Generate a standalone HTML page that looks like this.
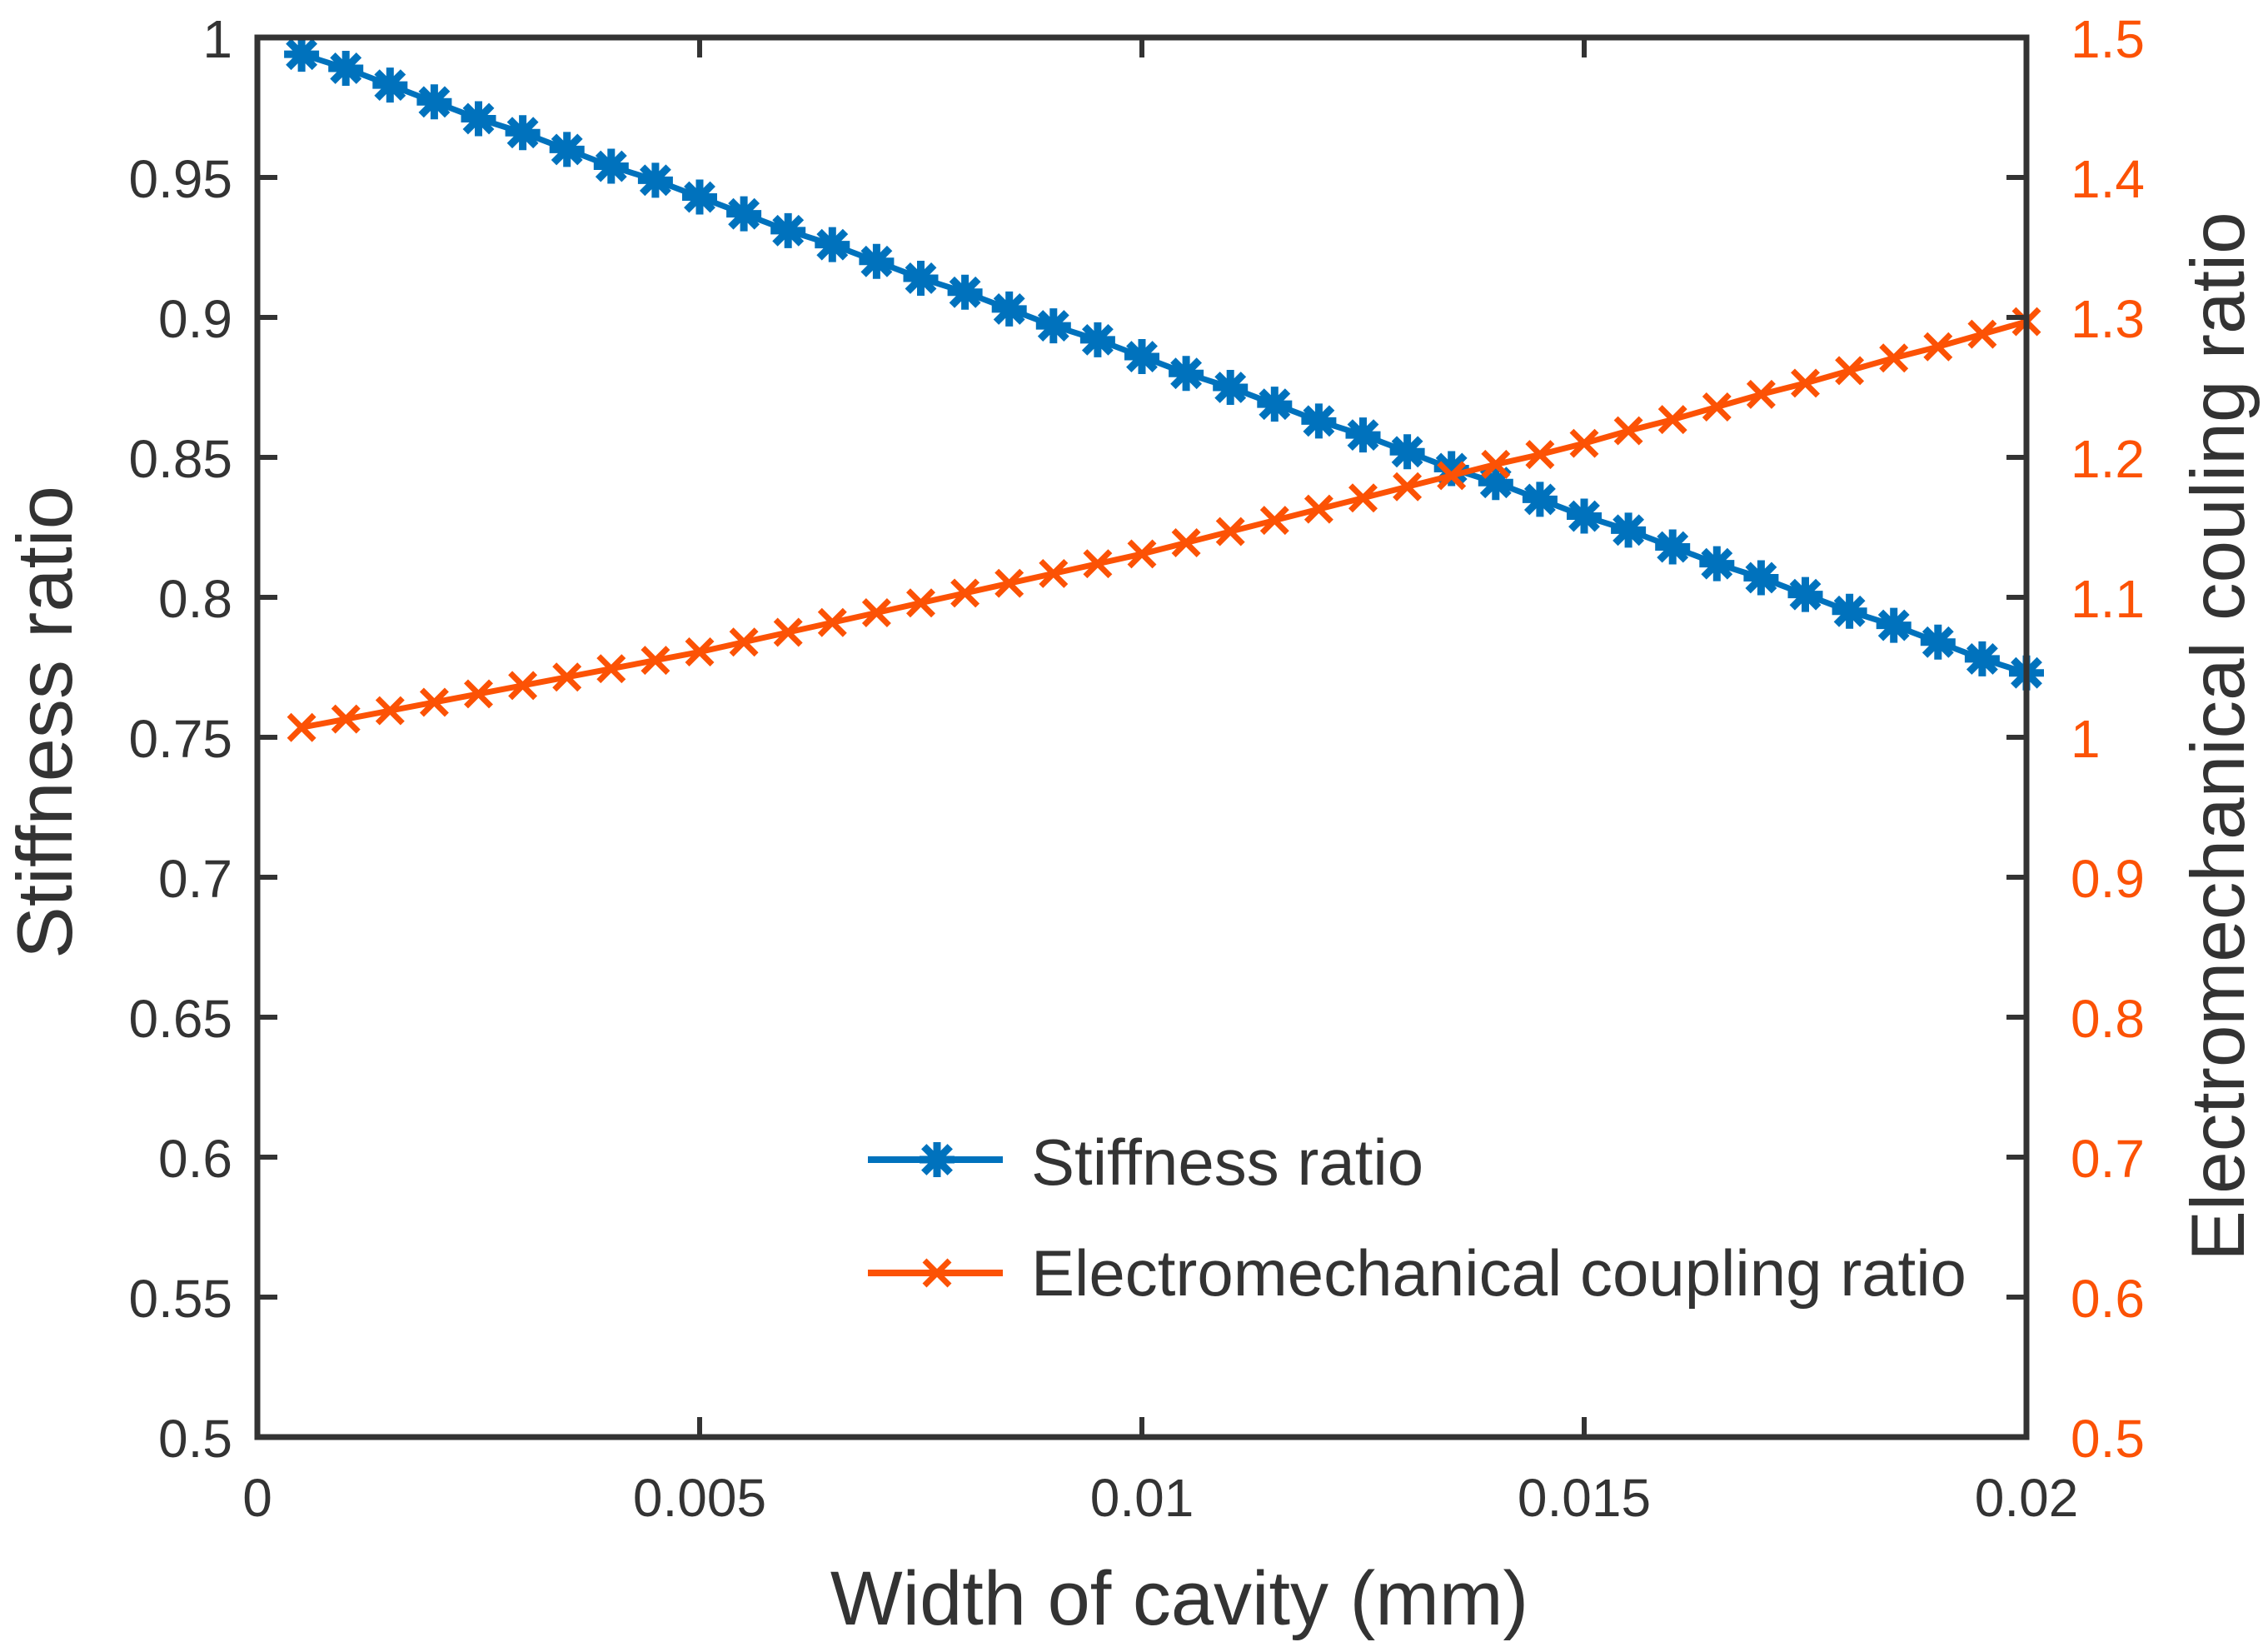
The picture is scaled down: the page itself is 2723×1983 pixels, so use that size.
<!DOCTYPE html>
<html><head><meta charset="utf-8"><style>
html,body{margin:0;padding:0;background:#fff}
svg{display:block}
text{font-family:"Liberation Sans",Arial,sans-serif}
</style></head><body>
<svg id="chart" width="2723" height="1983" viewBox="0 0 2723 1983" xmlns="http://www.w3.org/2000/svg">
<g id="grid"></g>
<g id="series"></g>
<g id="axes"></g>
</svg>
<script>
const widths = [0.0005,0.001,0.0015,0.002,0.0025,0.003,0.0035,0.004,0.0045,0.005,0.0055,0.006,0.0065,0.007,0.0075,0.008,0.0085,0.009,0.0095,0.01,0.0105,0.011,0.0115,0.012,0.0125,0.013,0.0135,0.014,0.0145,0.015,0.0155,0.016,0.0165,0.017,0.0175,0.018,0.0185,0.019,0.0195,0.02];
const stiffness = [0.994,0.989,0.983,0.977,0.971,0.966,0.960,0.954,0.949,0.943,0.937,0.931,0.926,0.920,0.914,0.909,0.903,0.897,0.892,0.886,0.880,0.875,0.869,0.863,0.858,0.852,0.846,0.841,0.835,0.829,0.824,0.818,0.812,0.807,0.801,0.795,0.790,0.784,0.778,0.773];
const coupling = [1.007,1.013,1.019,1.025,1.031,1.037,1.043,1.049,1.055,1.061,1.068,1.075,1.082,1.089,1.096,1.103,1.110,1.117,1.124,1.131,1.139,1.147,1.155,1.163,1.171,1.179,1.187,1.195,1.202,1.210,1.219,1.227,1.236,1.245,1.253,1.262,1.271,1.279,1.288,1.297];
const xTicks = [0,0.005,0.01,0.015,0.02];
const xTickLabels = ["0","0.005","0.01","0.015","0.02"];
const yLeftTicks = [0.5,0.55,0.6,0.65,0.7,0.75,0.8,0.85,0.9,0.95,1];
const yLeftLabels = ["0.5","0.55","0.6","0.65","0.7","0.75","0.8","0.85","0.9","0.95","1"];
const yRightTicks = [0.5,0.6,0.7,0.8,0.9,1,1.1,1.2,1.3,1.4,1.5];
const yRightLabels = ["0.5","0.6","0.7","0.8","0.9","1","1.1","1.2","1.3","1.4","1.5"];

const L=309,R=2433,T=45,B=1725;
const BLUE="#0072BD",ORANGE="#FC5205",AX="#333333";
const sx=v=>L+(v-0)/(0.02-0)*(R-L);
const syL=v=>B-(v-0.5)/(1-0.5)*(B-T);
const syR=v=>B-(v-0.5)/(1.5-0.5)*(B-T);
const NS="http://www.w3.org/2000/svg";
function mk(tag,attrs,parent){const e=document.createElementNS(NS,tag);for(const k in attrs)e.setAttribute(k,attrs[k]);parent.appendChild(e);return e;}
const series=document.getElementById('series'),axes=document.getElementById('axes');

function star(g,x,y,c){const r=21;
 const p=mk('path',{d:`M${x-r} ${y}H${x+r}M${x} ${y-r}V${y+r}M${x-r*0.75} ${y-r*0.75}L${x+r*0.75} ${y+r*0.75}M${x-r*0.75} ${y+r*0.75}L${x+r*0.75} ${y-r*0.75}`,stroke:c,'stroke-width':9,fill:'none'},g);return p;}
function cross(g,x,y,c){const r=15;
 return mk('path',{d:`M${x-r} ${y-r}L${x+r} ${y+r}M${x-r} ${y+r}L${x+r} ${y-r}`,stroke:c,'stroke-width':7,fill:'none'},g);}

const gS=mk('g',{},series);


const lS=mk('polyline',{points:widths.map((w,i)=>sx(w)+','+syL(stiffness[i])).join(' '),fill:'none',stroke:BLUE,'stroke-width':7},gS);


widths.forEach((w,i)=>{const m=star(gS,sx(w),syL(stiffness[i]),BLUE);
 
 });

const gC=mk('g',{},series);


const lC=mk('polyline',{points:widths.map((w,i)=>sx(w)+','+syR(coupling[i])).join(' '),fill:'none',stroke:ORANGE,'stroke-width':7},gC);


widths.forEach((w,i)=>{const m=cross(gC,sx(w),syR(coupling[i]),ORANGE);
 
 });

const box=mk('rect',{x:L,y:T,width:R-L,height:B-T,fill:'none',stroke:AX,'stroke-width':7},axes);



xTicks.forEach((v,i)=>{const x=sx(v);
 mk('path',{d:`M${x} ${B}V${B-24}M${x} ${T}V${T+24}`,stroke:AX,'stroke-width':6},axes);
 const t=mk('text',{x:x,y:1820,'text-anchor':'middle','font-size':64,fill:AX},axes);t.textContent=xTickLabels[i];
 
 });
yLeftTicks.forEach((v,i)=>{const y=syL(v);
 mk('path',{d:`M${L} ${y}H${L+24}`,stroke:AX,'stroke-width':6},axes);
 const t=mk('text',{x:279,y:y+24,'text-anchor':'end','font-size':64,fill:AX},axes);t.textContent=yLeftLabels[i];
 
 });
yRightTicks.forEach((v,i)=>{const y=syR(v);
 mk('path',{d:`M${R} ${y}H${R-24}`,stroke:AX,'stroke-width':6},axes);
 const t=mk('text',{x:2486,y:y+24,'text-anchor':'start','font-size':64,fill:ORANGE},axes);t.textContent=yRightLabels[i];
 
 });

const xt=mk('text',{x:1416,y:1950,'text-anchor':'middle','font-size':92,fill:AX},axes);xt.textContent="Width of cavity (mm)";


const yl=mk('text',{x:0,y:0,transform:`translate(86 867) rotate(-90)`,'text-anchor':'middle','font-size':94,fill:AX},axes);yl.textContent="Stiffness ratio";


const yr=mk('text',{x:0,y:0,transform:`translate(2694 884) rotate(-90)`,'text-anchor':'middle','font-size':91,fill:AX},axes);yr.textContent="Electromechanical couling ratio";



const lg=mk('g',{},axes);


const e1=mk('g',{},lg);


mk('line',{x1:1042,y1:1392,x2:1204,y2:1392,stroke:BLUE,'stroke-width':8},e1);
star(e1,1125,1392,BLUE);
const t1=mk('text',{x:1238,y:1422,'font-size':78,fill:AX},e1);t1.textContent="Stiffness ratio";
const e2=mk('g',{},lg);


mk('line',{x1:1042,y1:1528,x2:1204,y2:1528,stroke:ORANGE,'stroke-width':8},e2);
cross(e2,1125,1528,ORANGE);
const t2=mk('text',{x:1238,y:1555,'font-size':78,fill:AX},e2);t2.textContent="Electromechanical coupling ratio";
</script>
</body></html>
